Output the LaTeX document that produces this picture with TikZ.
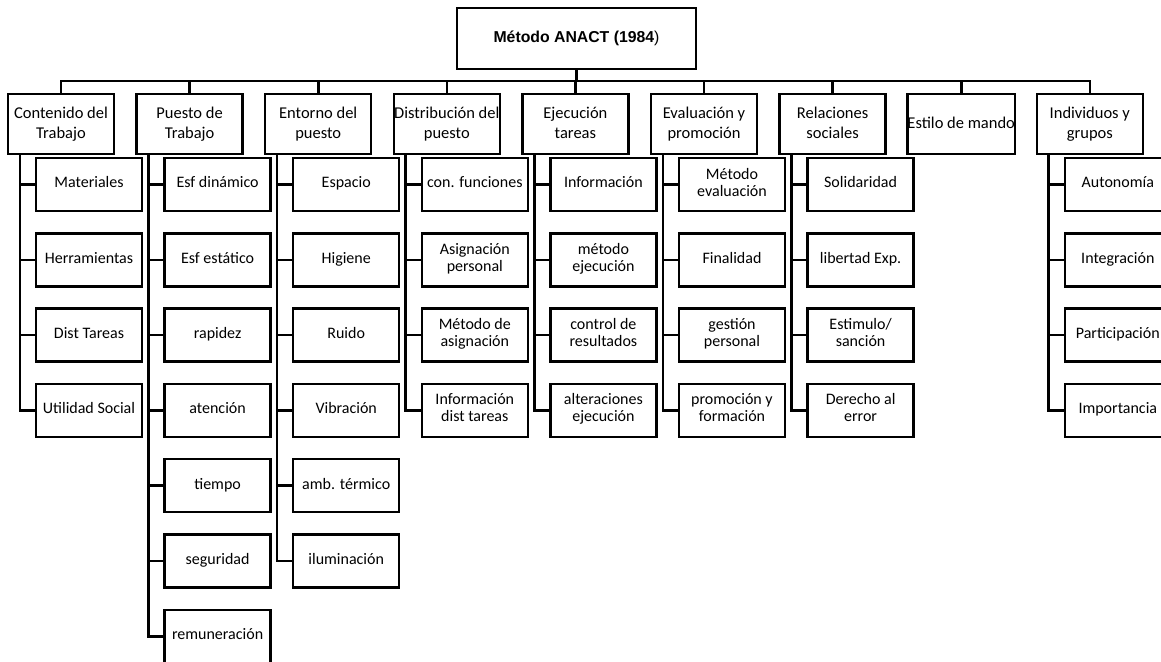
\documentclass[tikz,border=0pt]{standalone}
\usepackage{fontspec}
\setmainfont{Carlito}
\newfontfamily\arialfont{Liberation Sans}
\begin{document}
\begin{tikzpicture}[x=1pt,y=-1pt,
  box/.style={draw, line width=2.4pt, inner sep=0pt, align=center,
    font=\fontsize{16}{17}\selectfont},
  headbox/.style={box, minimum width=106pt, minimum height=60pt,
    font=\fontsize{16.5}{20}\selectfont,
    execute at begin node=\rule{0pt}{16pt},
    execute at end node=\rule[-2pt]{0pt}{2pt}},
  onelinehead/.style={box, minimum width=106pt, minimum height=60pt,
    font=\fontsize{16.5}{20}\selectfont,
    execute at begin node=\strut, execute at end node=\strut},
  itembox/.style={box, minimum width=106pt, minimum height=53pt,
    execute at begin node=\strut, execute at end node=\strut},
  link/.style={line width=2.6pt}]
\clip (0,0) rectangle (1161,661);

% root
\node[box, minimum width=239pt, minimum height=61pt,
  font=\arialfont\fontsize{15.8}{18}\selectfont] (root) at (576.5,38.5)
  {\textbf{Método ANACT (1984})};
\coordinate (bus) at (576.5,81);
\draw[link] (root.south) -- (bus);

% first level
\foreach \i/\t in {0/{Contenido del\\Trabajo}, 1/{Puesto de\\Trabajo},
    2/{Entorno del\\puesto}, 3/{Distribución del\\puesto},
    4/{Ejecución\\tareas}, 5/{Evaluación y\\promoción},
    6/{Relaciones\\sociales}, 8/{Individuos y\\grupos}} {
  \node[headbox] (h\i) at ({61+128.6*\i},124) {\t};
  \draw[link] (bus) -| (h\i.north);
}
\node[onelinehead] (h7) at ({61+128.6*7},124) {Estilo de mando};
\draw[link] (bus) -| (h7.north);

% second level
\foreach \i/\items in {
    0/{Materiales,Herramientas,Dist Tareas,Utilidad Social},
    1/{Esf dinámico,Esf estático,rapidez,atención,tiempo,seguridad,remuneración},
    2/{Espacio,Higiene,Ruido,Vibración,amb. térmico,iluminación},
    3/{con. funciones,{Asignación\\personal},{Método de\\asignación},{Información\\dist tareas}},
    4/{Información,{método\\ejecución},{control de\\resultados},{alteraciones\\ejecución}},
    5/{{Método\\evaluación},Finalidad,{gestión\\personal},{promoción y\\formación}},
    6/{Solidaridad,libertad Exp.,{Estimulo/\\sanción},{Derecho al\\error}},
    8/{Autonomía,Integración,Participación,Importancia}} {
  \foreach \t [count=\k from 0] in \items {
    \node[itembox] (c\i-\k) at ({89+128.6*\i},{184.5+75.3*\k}) {\t};
    \draw[link] ([xshift=13pt]h\i.south west) |- (c\i-\k.west);
  }
}
\end{tikzpicture}
\end{document}
